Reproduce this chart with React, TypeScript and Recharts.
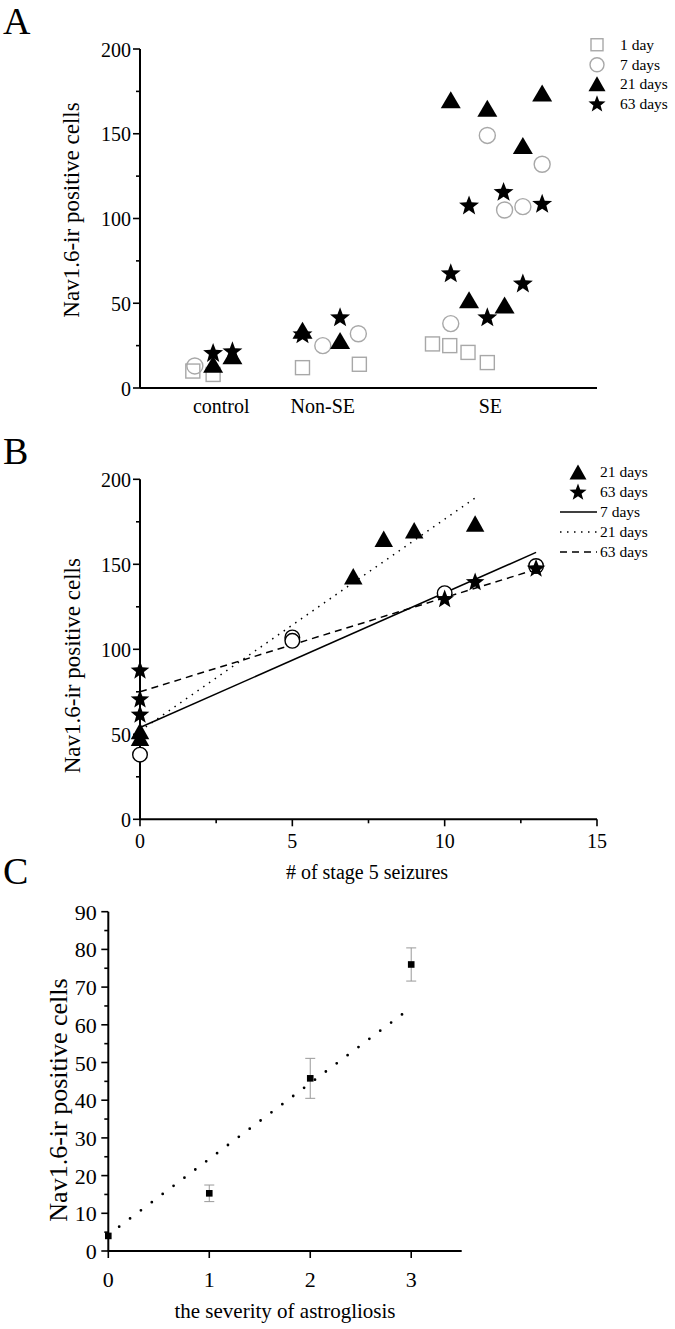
import React from "react";
import { ScatterChart, Scatter, XAxis, YAxis, Legend, ErrorBar } from "recharts";

const FONT = '"Liberation Serif", "Times New Roman", Times, serif';
const GREY = "#a8a8a8";

// ---- panel A: Nav1.6-ir cells per group, jittered inside each group ----
const groupNames = ["control", "Non-SE", "SE"];
const groupPos = [0.8, 1.8, 3.45];
const aTicksY = [0, 25, 50, 75, 100, 125, 150, 175, 200];
const aDay1 = [
  { x: 0.52, y: 10 }, { x: 0.72, y: 8 }, { x: 1.6, y: 12 }, { x: 2.16, y: 14 },
  { x: 2.88, y: 26 }, { x: 3.05, y: 25 }, { x: 3.23, y: 21 }, { x: 3.42, y: 15 },
];
const aDay7 = [
  { x: 0.54, y: 13 }, { x: 1.8, y: 25 }, { x: 2.15, y: 32 }, { x: 3.06, y: 38 },
  { x: 3.42, y: 149 }, { x: 3.59, y: 105 }, { x: 3.77, y: 107 }, { x: 3.96, y: 132 },
];
const aDay21 = [
  { x: 0.72, y: 14 }, { x: 0.91, y: 19 }, { x: 1.6, y: 34 }, { x: 1.97, y: 28 },
  { x: 3.06, y: 170 }, { x: 3.42, y: 165 }, { x: 3.96, y: 174 }, { x: 3.77, y: 143 },
  { x: 3.24, y: 52 }, { x: 3.59, y: 49 },
];
const aDay63 = [
  { x: 0.72, y: 21 }, { x: 0.91, y: 22 }, { x: 1.6, y: 32 }, { x: 1.97, y: 42 },
  { x: 3.58, y: 116 }, { x: 3.24, y: 108 }, { x: 3.96, y: 109 }, { x: 3.06, y: 68 },
  { x: 3.77, y: 62 }, { x: 3.42, y: 42 },
];
const aLegend = ["1 day", "7 days", "21 days", "63 days"];

// ---- panel B: cells vs number of stage 5 seizures ----
const bTicksX = [0, 2.5, 5, 7.5, 10, 12.5, 15];
const bDay7 = [
  { x: 0, y: 38 }, { x: 5, y: 107 }, { x: 5, y: 105 }, { x: 10, y: 133 }, { x: 13, y: 149 },
];
const bDay21 = [
  { x: 0, y: 52 }, { x: 0, y: 48 }, { x: 7, y: 143 }, { x: 8, y: 165 }, { x: 9, y: 170 }, { x: 11, y: 174 },
];
const bDay63 = [
  { x: 0, y: 88 }, { x: 0, y: 71 }, { x: 0, y: 62 }, { x: 10, y: 130 }, { x: 11, y: 140 }, { x: 13, y: 148 },
];
const fit7 = [{ x: 0, y: 54 }, { x: 13, y: 157 }];
const fit21 = [{ x: 0, y: 52 }, { x: 11, y: 189 }];
const fit63 = [{ x: 0, y: 75 }, { x: 13, y: 147 }];
const bLegend = ["21 days", "63 days", "7 days", "21 days", "63 days"];

// ---- panel C: cells vs astrogliosis severity ----
const cTicksX = [0, 1, 2, 3];
const cTicksY = [0, 5, 10, 15, 20, 25, 30, 35, 40, 45, 50, 55, 60, 65, 70, 75, 80, 85, 90];
const severity = [0, 1, 2, 3];
const cMean = [4, 15.3, 45.8, 76];
const cErr = [0, 2.2, 5.3, 4.4];
const cFit = [{ x: 0, y: 4.3 }, { x: 3, y: 64.6 }];

const cData = severity.map((x, i) => ({ x, y: cMean[i], err: cErr[i] }));

// ---- marker shapes ----
const Square = ({ cx, cy, s = 14 }: any) => (
  <rect x={cx - s / 2} y={cy - s / 2} width={s} height={s} fill="none" stroke={GREY} strokeWidth={1.4} />
);
const Ring = ({ cx, cy, r = 8, stroke = GREY, fill = "none" }: any) => (
  <circle cx={cx} cy={cy} r={r} fill={fill} stroke={stroke} strokeWidth={1.4} />
);
const Tri = ({ cx, cy, w = 20, h = 17 }: any) => (
  <polygon points={`${cx},${cy - h / 2} ${cx - w / 2},${cy + h / 2} ${cx + w / 2},${cy + h / 2}`} fill="#000" />
);
const Star = ({ cx, cy, r = 10.5 }: any) => {
  const pts: string[] = [];
  for (let i = 0; i < 10; i++) {
    const a = ((-90 + i * 36) * Math.PI) / 180;
    const rr = i % 2 ? r * 0.42 : r;
    pts.push(`${cx + rr * Math.cos(a)},${cy + 1 + rr * Math.sin(a)}`);
  }
  return <polygon points={pts.join(" ")} fill="#000" />;
};
const Dot = ({ cx, cy }: any) => <rect x={cx - 3.3} y={cy - 3.3} width={6.6} height={6.6} fill="#000" />;
const Nothing = () => <g />;

// ---- axis ticks: majors get a label, minors just a short mark ----
type TickOpts = { major: number; long: number; short: number; gap?: number; size: number; dy: number };
const isMajor = (v: number, m: number) => Math.abs(v / m - Math.round(v / m)) < 1e-6;

const leftTick = (o: TickOpts) => (p: any) => {
  const v = p.payload.value;
  const big = isMajor(v, o.major);
  const len = big ? o.long : o.short;
  return (
    <g>
      <line x1={p.x - len} x2={p.x} y1={p.y} y2={p.y} stroke="#000" strokeWidth={1.6} />
      {big && (
        <text x={p.x - len - (o.gap || 2)} y={p.y + o.dy} textAnchor="end" fontSize={o.size} fontFamily={FONT} fill="#000">
          {v}
        </text>
      )}
    </g>
  );
};

const bottomTick = (o: TickOpts) => (p: any) => {
  const v = p.payload.value;
  const big = isMajor(v, o.major);
  const len = big ? o.long : o.short;
  return (
    <g>
      <line x1={p.x} x2={p.x} y1={p.y} y2={p.y + len} stroke="#000" strokeWidth={1.6} />
      {big && (
        <text x={p.x} y={p.y + o.dy} textAnchor="middle" fontSize={o.size} fontFamily={FONT} fill="#000">
          {v}
        </text>
      )}
    </g>
  );
};

const groupTick = (p: any) => (
  <text x={p.x} y={p.y + 25} textAnchor="middle" fontSize={20} fontFamily={FONT} fill="#000">
    {groupNames[groupPos.indexOf(p.payload.value)]}
  </text>
);

const vTitle = (bx: number, cy: number, size: number) => () => (
  <text x={bx} y={cy} transform={`rotate(-90 ${bx} ${cy})`} textAnchor="middle" fontSize={size} fontFamily={FONT} fill="#000">
    Nav1.6-ir positive cells
  </text>
);
const hTitle = (text: string, cx: number, by: number, size: number) => () => (
  <text x={cx} y={by} textAnchor="middle" fontSize={size} fontFamily={FONT} fill="#000">
    {text}
  </text>
);

const axisLine = { stroke: "#000", strokeWidth: 2 };

const legendA = () => (
  <div style={{ fontFamily: FONT, fontSize: 15.5, color: "#000" }}>
    {aLegend.map((name, i) => (
      <div key={i} style={{ display: "flex", alignItems: "center", height: 19.5 }}>
        <svg width={24} height={19.5}>
          {i === 0 && <Square cx={12} cy={9.75} s={12} />}
          {i === 1 && <Ring cx={12} cy={9.75} r={7} />}
          {i === 2 && <Tri cx={12} cy={9.75} w={17} h={15} />}
          {i === 3 && <Star cx={12} cy={9.25} r={9} />}
        </svg>
        <span style={{ marginLeft: 11, lineHeight: "19.5px" }}>{name}</span>
      </div>
    ))}
  </div>
);

const lineStyles = ["none", "1.5 5.5", "7 5"];
const legendB = () => (
  <div style={{ fontFamily: FONT, fontSize: 15.5, color: "#000" }}>
    {bLegend.map((name, i) => (
      <div key={i} style={{ display: "flex", alignItems: "center", height: 20 }}>
        <svg width={40} height={20}>
          {i === 0 && <Tri cx={20} cy={10} w={17} h={15} />}
          {i === 1 && <Star cx={20} cy={9.5} r={9} />}
          {i >= 2 && (
            <line x1={2} x2={39} y1={10} y2={10} stroke="#000" strokeWidth={1.5}
              strokeDasharray={lineStyles[i - 2] === "none" ? undefined : lineStyles[i - 2]} />
          )}
        </svg>
        <span style={{ marginLeft: 2, lineHeight: "20px" }}>{name}</span>
      </div>
    ))}
  </div>
);

const letter = (ch: string, top: number) => (
  <div style={{ position: "absolute", left: 3, top, fontFamily: FONT, fontSize: 38, lineHeight: "42px", color: "#000" }}>
    {ch}
  </div>
);

export default function App() {
  return (
    <div style={{ position: "absolute", left: 0, top: 0, width: 675, height: 1329, background: "#fff" }}>
      {/* Panel A */}
      <div style={{ position: "absolute", left: 0, top: 0 }}>
        <ScatterChart width={675} height={430} margin={{ top: 49, right: 78, bottom: 0, left: 0 }}>
          <XAxis type="number" dataKey="x" domain={[0, 4.5]} ticks={groupPos} interval={0} height={42}
            tickSize={0} tickMargin={0} tickLine={false} axisLine={axisLine} tick={groupTick} />
          <YAxis type="number" dataKey="y" domain={[0, 200]} ticks={aTicksY} interval={0} width={140}
            tickSize={0} tickMargin={0} tickLine={false} axisLine={axisLine}
            tick={leftTick({ major: 50, long: 7, short: 4, gap: 2, size: 20, dy: 7.5 })}
            label={vTitle(79, 210, 23)} />
          <Legend layout="vertical" align="center" verticalAlign="middle" content={legendA}
            wrapperStyle={{ left: 585, top: 35.25, width: 90 }} />
          <Scatter data={aDay1} isAnimationActive={false} shape={(p: any) => <Square cx={p.cx} cy={p.cy} />} />
          <Scatter data={aDay7} isAnimationActive={false} shape={(p: any) => <Ring cx={p.cx} cy={p.cy} />} />
          <Scatter data={aDay21} isAnimationActive={false} shape={(p: any) => <Tri cx={p.cx} cy={p.cy} />} />
          <Scatter data={aDay63} isAnimationActive={false} shape={(p: any) => <Star cx={p.cx} cy={p.cy} />} />
        </ScatterChart>
      </div>

      {/* Panel B */}
      <div style={{ position: "absolute", left: 0, top: 430 }}>
        <ScatterChart width={675} height={460} margin={{ top: 49.3, right: 78, bottom: 0, left: 0 }}>
          <XAxis type="number" dataKey="x" domain={[0, 15]} ticks={bTicksX} interval={0} height={70.7}
            tickSize={0} tickMargin={0} tickLine={false} axisLine={axisLine}
            tick={bottomTick({ major: 5, long: 7, short: 4, size: 20, dy: 29 })}
            label={hTitle("# of stage 5 seizures", 367, 449, 20)} />
          <YAxis type="number" dataKey="y" domain={[0, 200]} ticks={aTicksY} interval={0} width={140}
            tickSize={0} tickMargin={0} tickLine={false} axisLine={axisLine}
            tick={leftTick({ major: 50, long: 7, short: 4, gap: 2, size: 20, dy: 7.5 })}
            label={vTitle(80, 235.7, 23)} />
          <Legend layout="vertical" align="center" verticalAlign="middle" content={legendB}
            wrapperStyle={{ left: 558, top: 32, width: 117 }} />
          <Scatter data={fit7} isAnimationActive={false} shape={Nothing} legendType="none"
            line={{ stroke: "#000", strokeWidth: 1.5 }} />
          <Scatter data={fit21} isAnimationActive={false} shape={Nothing} legendType="none"
            line={{ stroke: "#000", strokeWidth: 1.5, strokeDasharray: "1.5 5.5" }} />
          <Scatter data={fit63} isAnimationActive={false} shape={Nothing} legendType="none"
            line={{ stroke: "#000", strokeWidth: 1.5, strokeDasharray: "7 5" }} />
          <Scatter data={bDay7} isAnimationActive={false}
            shape={(p: any) => <Ring cx={p.cx} cy={p.cy} r={7.3} stroke="#000" fill="#fff" />} />
          <Scatter data={bDay21} isAnimationActive={false} shape={(p: any) => <Tri cx={p.cx} cy={p.cy} w={18.5} h={16.5} />} />
          <Scatter data={bDay63} isAnimationActive={false} shape={(p: any) => <Star cx={p.cx} cy={p.cy} r={9.8} />} />
        </ScatterChart>
      </div>

      {/* Panel C */}
      <div style={{ position: "absolute", left: 0, top: 860 }}>
        <ScatterChart width={675} height={469} margin={{ top: 51.7, right: 213.3, bottom: 0, left: 0 }}>
          <XAxis type="number" dataKey="x" domain={[0, 3.5]} ticks={cTicksX} interval={0} height={78}
            tickSize={0} tickMargin={0} tickLine={false} axisLine={axisLine}
            tick={bottomTick({ major: 1, long: 7, short: 4, size: 22, dy: 35.7 })}
            label={hTitle("the severity of astrogliosis", 285, 458, 21)} />
          <YAxis type="number" dataKey="y" domain={[0, 90]} ticks={cTicksY} interval={0} width={108.3}
            tickSize={0} tickMargin={0} tickLine={false} axisLine={axisLine}
            tick={leftTick({ major: 10, long: 7, short: 4, gap: 4.6, size: 22, dy: 8 })}
            label={vTitle(67, 240, 26)} />
          <Scatter data={cFit} isAnimationActive={false} shape={Nothing} legendType="none"
            line={{ stroke: "#000", strokeWidth: 2.8, strokeDasharray: "0 13.6", strokeLinecap: "round" }} />
          <Scatter data={cData} isAnimationActive={false} shape={Dot}>
            <ErrorBar dataKey="err" direction="y" width={5} stroke="#999" strokeWidth={1} />
          </Scatter>
        </ScatterChart>
      </div>

      {letter("A", 0)}
      {letter("B", 429.5)}
      {letter("C", 849.5)}
    </div>
  );
}
